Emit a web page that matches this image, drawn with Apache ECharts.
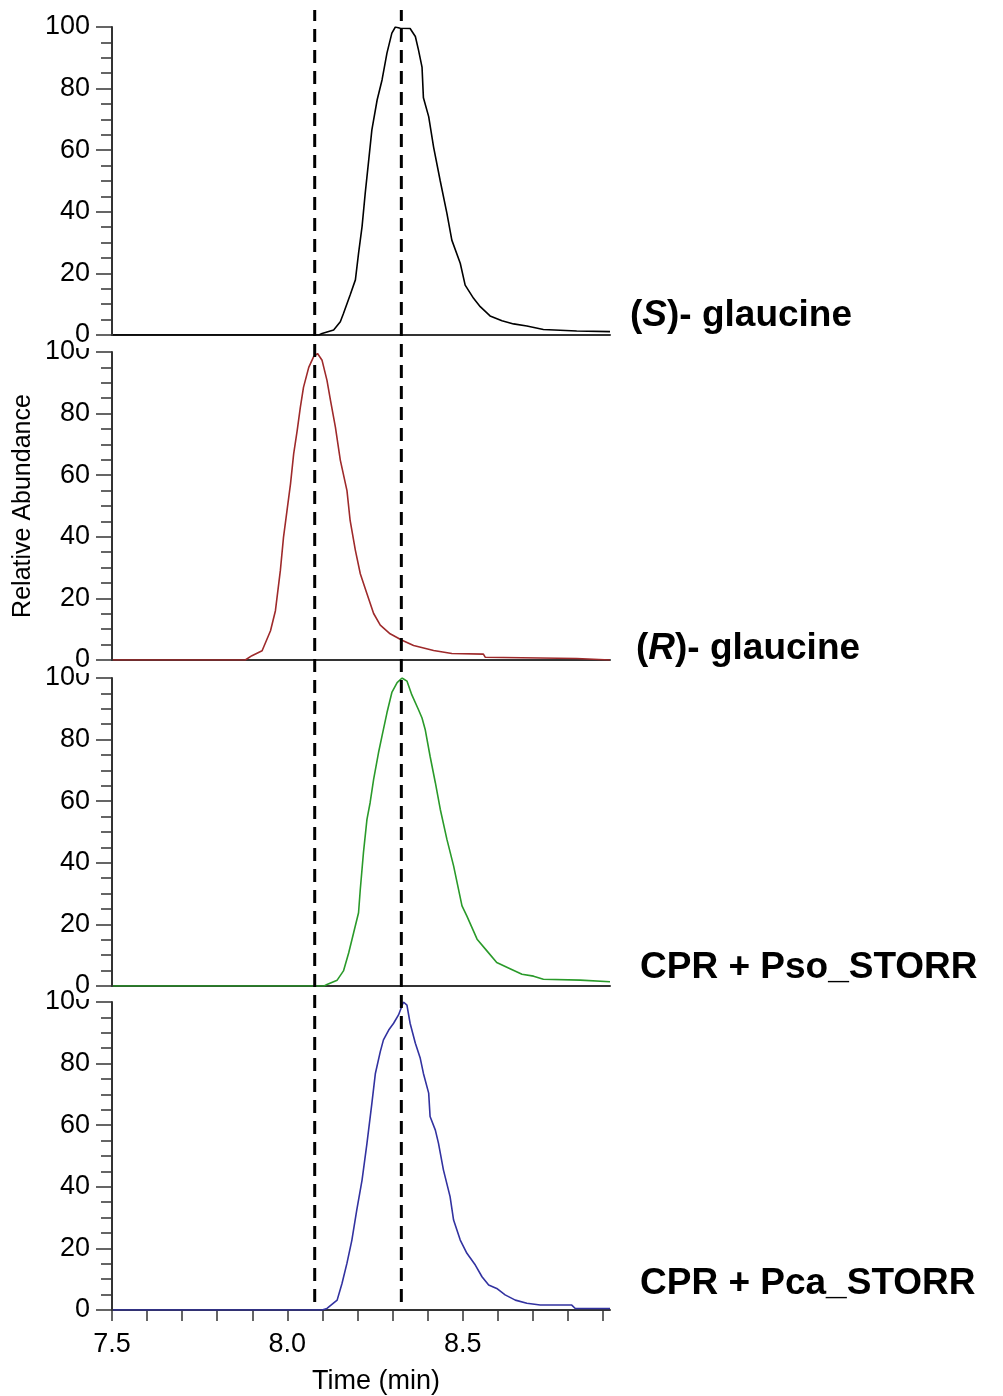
<!DOCTYPE html>
<html>
<head>
<meta charset="utf-8">
<script src="https://cdn.jsdelivr.net/npm/echarts@6/dist/echarts.min.js"></script>
<style>
html,body{margin:0;padding:0;background:#fff;}
#chart{width:1003px;height:1396px;}
</style>
</head>
<body>
<div id="chart"></div>
<script>
// ---- data ----
const xMin = 7.5;
const xMax = 8.92;
const xTickValues = [7.5,7.6,7.7,7.8,7.9,8.0,8.1,8.2,8.3,8.4,8.5,8.6,8.7,8.8,8.9];
const xLabelValues = [7.5,8.0,8.5];
const yTickLabels = [0,20,40,60,80,100];
const dashedTimes = [8.078, 8.325];

const panelNames = ['(S)- glaucine','(R)- glaucine','CPR + Pso_STORR','CPR + Pca_STORR'];

const timeS = [7.5,8.090,8.099,8.132,8.151,8.160,8.179,8.194,8.203,8.213,8.222,8.232,8.241,8.256,8.270,8.284,8.298,8.308,8.322,8.350,8.365,8.374,8.384,8.388,8.403,8.417,8.436,8.455,8.469,8.493,8.507,8.531,8.550,8.578,8.612,8.645,8.683,8.730,8.825,8.920];
const valS  = [0,0,0.5,1.6,4.3,7.0,13,17.9,26.5,35.2,46,56.8,66.6,76.3,82.8,91.5,98,100,99.6,99.5,96.9,92.5,87,77,70.9,61,50,39.5,30.8,23.3,16.2,11.9,9.2,6.2,4.6,3.6,2.9,1.8,1.3,1.1];

const timeR = [7.5,7.880,7.899,7.928,7.952,7.966,7.980,7.989,7.999,8.009,8.018,8.028,8.037,8.046,8.061,8.075,8.086,8.099,8.113,8.123,8.137,8.151,8.170,8.179,8.194,8.208,8.227,8.246,8.265,8.293,8.327,8.360,8.417,8.469,8.559,8.564,8.825,8.830,8.920];
const valR  = [0,0,1.4,3.0,9.5,16,29,39.8,48.5,57.2,66.9,74.5,82,88.5,95,98.5,99.5,97.3,90.8,84.3,75.6,64.9,55,45.3,35.6,28,21.5,15.1,11.3,8.5,6.4,4.7,3.1,2.1,1.9,0.9,0.5,0,0];

const timePso = [7.5,8.105,8.113,8.142,8.160,8.175,8.189,8.203,8.208,8.217,8.227,8.236,8.246,8.260,8.270,8.284,8.298,8.313,8.327,8.341,8.355,8.374,8.384,8.393,8.407,8.422,8.436,8.455,8.474,8.498,8.512,8.541,8.569,8.597,8.635,8.669,8.702,8.730,8.835,8.840,8.920];
const valPso  = [0,0,0.5,1.9,4.9,10.8,17.3,23.8,31.4,43.3,54.1,59.5,67.1,75.8,81.2,88.7,95.3,98.5,100,99,94.5,89.7,87,83.3,74.6,66,57.4,47.6,39,26,22.7,15.2,11.4,7.6,5.6,3.8,3.2,2.2,1.9,1.4,1.4];

const timePca = [7.5,8.099,8.113,8.142,8.156,8.170,8.184,8.198,8.213,8.227,8.241,8.251,8.265,8.274,8.289,8.303,8.317,8.331,8.341,8.350,8.365,8.379,8.388,8.403,8.407,8.422,8.431,8.445,8.464,8.474,8.493,8.512,8.536,8.555,8.574,8.597,8.621,8.650,8.683,8.721,8.811,8.821,8.920];
const valPca  = [0,0,0.5,3.2,8.7,15.2,22.7,32.5,42.2,54.1,67.1,76.8,83.9,87.7,90.9,93.1,95.8,100,99,93.1,86.6,81.7,76.8,70.4,62.8,58.4,54.1,45.5,36.8,29.2,22.7,18.4,14.6,10.8,8.1,7.0,4.9,3.2,2.2,1.6,1.6,0.5,0.5];

// ---- layout / style ----
const FONT = "'Liberation Sans', Arial, sans-serif";
const panelTimes = [timeS, timeR, timePso, timePca];
const panelVals = [valS, valR, valPso, valPca];
const panelColors = ['#000000', '#9e2a2b', '#2a9a2a', '#3232a0'];
const panelTops = [27, 352, 678, 1002];
const panelHeight = 308;
const gridLeft = 112, gridRight = 393;
const labelPos = [[630, 314], [636, 647], [640, 966], [640, 1282]];

const zip = (a, b) => a.map((t, i) => [t, b[i]]);

const grids = [], xAxes = [], yAxes = [], series = [], titles = [];

for (let p = 0; p < 4; p++) {
  grids.push({left: gridLeft, right: gridRight, top: panelTops[p], height: panelHeight});
  const isLast = p === 3;
  xAxes.push({
    type: 'value', gridIndex: p, min: xMin, max: xMax,
    axisLine: {show: true, onZero: false, lineStyle: {color: '#333', width: 2}},
    axisTick: {show: isLast, length: 11, customValues: xTickValues, lineStyle: {color: '#333', width: 1.5}},
    axisLabel: {show: isLast, customValues: xLabelValues, margin: 21,
      formatter: v => v.toFixed(1), color: '#000', fontSize: 27, fontFamily: FONT},
    splitLine: {show: false},
    name: isLast ? 'Time (min)' : '', nameLocation: 'middle', nameGap: 58,
    nameTextStyle: {color: '#000', fontSize: 27, fontFamily: FONT, padding: [0, 0, 0, 30]}
  });
  yAxes.push({
    type: 'value', gridIndex: p, min: 0, max: 100, interval: 20, z: 10 - p,
    axisLine: {show: true, lineStyle: {color: '#333', width: 2}},
    axisTick: {show: true, length: 16, lineStyle: {color: '#333', width: 1.5}},
    minorTick: {show: true, splitNumber: 4, length: 11, lineStyle: {color: '#333', width: 1.5}},
    axisLabel: {margin: 21, color: '#000', fontSize: 27, fontFamily: FONT,
      backgroundColor: '#fff', lineHeight: 26, padding: [0, 1],
      customValues: yTickLabels},
    splitLine: {show: false},
    name: p === 1 ? 'Relative Abundance' : '', nameLocation: 'middle', nameGap: 76,
    nameTextStyle: {color: '#000', fontSize: 25, fontFamily: FONT}
  });
  series.push({
    type: 'line', xAxisIndex: p, yAxisIndex: p, showSymbol: false, symbol: 'none',
    data: zip(panelTimes[p], panelVals[p]), z: 3,
    lineStyle: {color: panelColors[p], width: 1.6}, animation: false
  });
  const name = panelNames[p];
  let rich;
  const m = name.match(/^\((.)\)(.*)$/);
  if (m) rich = '{b|(}{i|' + m[1] + '}{b|)' + m[2] + '}';
  else rich = '{b|' + name + '}';
  titles.push({
    text: rich, left: labelPos[p][0], top: labelPos[p][1] - 18, padding: 0,
    textStyle: {
      rich: {
        b: {fontSize: 37, fontWeight: 'bold', fontFamily: FONT, color: '#000', lineHeight: 40},
        i: {fontSize: 37, fontWeight: 'bold', fontStyle: 'italic', fontFamily: FONT, color: '#000', lineHeight: 40}
      }
    }
  });
}

// overlay grid for the dashed reference lines spanning all panels
grids.push({left: gridLeft, right: gridRight, top: 10, bottom: 94});
xAxes.push({type: 'value', gridIndex: 4, min: xMin, max: xMax, show: false});
yAxes.push({type: 'value', gridIndex: 4, min: 0, max: 1, show: false});
dashedTimes.forEach(t => {
  series.push({
    type: 'line', xAxisIndex: 4, yAxisIndex: 4, symbol: 'none', z: 20,
    data: [[t, 0], [t, 1]],
    lineStyle: {color: '#000', width: 3, type: [13, 8]}, animation: false
  });
});

const chart = echarts.init(document.getElementById('chart'), null, {renderer: 'canvas'});
chart.setOption({
  backgroundColor: '#fff',
  animation: false,
  title: titles,
  grid: grids,
  xAxis: xAxes,
  yAxis: yAxes,
  series: series
});
</script>
</body>
</html>
